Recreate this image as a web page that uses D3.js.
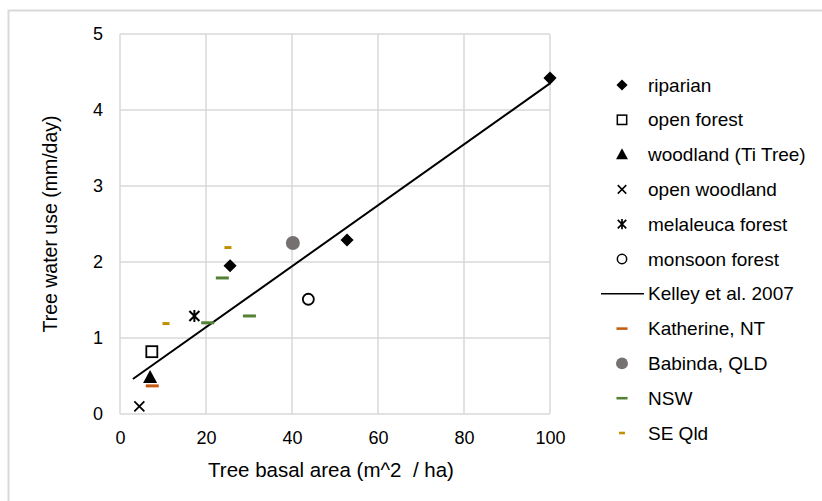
<!DOCTYPE html>
<html>
<head>
<meta charset="utf-8">
<script src="https://cdn.jsdelivr.net/npm/d3@7"></script>
<style>
  body { margin: 0; background: #fff; }
  svg { display: block; font-family: "Liberation Sans", Arial, sans-serif; }
</style>
</head>
<body>
<div id="chart"></div>
<script>
// data
const riparian = [[25.6, 1.95], [52.8, 2.29], [100, 4.42]];
const openForest = [[7.4, 0.82]];
const woodlandTiTree = [[7.0, 0.48]];
const openWoodland = [[4.5, 0.10]];
const melaleuca = [[17.3, 1.29]];
const monsoon = [[43.8, 1.51]];
const kelley = [[3, 0.46], [100, 4.35]];
const katherine = [[7.5, 0.37]];
const babinda = [[40.2, 2.25]];
const nsw = [[23.8, 1.79], [20.4, 1.20], [30.1, 1.29]];
const seQld = [[10.7, 1.19], [25.1, 2.19]];

const xTicks = [0, 20, 40, 60, 80, 100];
const yTicks = [0, 1, 2, 3, 4, 5];

const legendItems = [
  { name: "riparian", kind: "diamond" },
  { name: "open forest", kind: "square" },
  { name: "woodland (Ti Tree)", kind: "triangle" },
  { name: "open woodland", kind: "x" },
  { name: "melaleuca forest", kind: "star" },
  { name: "monsoon forest", kind: "circle" },
  { name: "Kelley et al. 2007", kind: "line" },
  { name: "Katherine, NT", kind: "dash", color: "#c55a11" },
  { name: "Babinda, QLD", kind: "dot" },
  { name: "NSW", kind: "dash", color: "#548235" },
  { name: "SE Qld", kind: "dashSmall", color: "#bf9000" }
];

const width = 822, height = 501;
const margin = { left: 120, top: 34, right: 272, bottom: 87 };

const svg = d3.select("#chart").append("svg")
  .attr("width", width)
  .attr("height", height);

// outer frame (top and left edges only visible)
svg.append("path")
  .attr("d", `M8.5,${height}V10.5H${width}`)
  .attr("fill", "none")
  .attr("stroke", "#d9d9d9")
  .attr("stroke-width", 2);

const x = d3.scaleLinear().domain([0, 100]).range([margin.left, width - margin.right]);
const y = d3.scaleLinear().domain([0, 5]).range([height - margin.bottom, margin.top]);

// grid
svg.append("g")
  .selectAll("line.v")
  .data(xTicks)
  .enter().append("line")
  .attr("x1", d => x(d)).attr("x2", d => x(d))
  .attr("y1", y(0)).attr("y2", y(5))
  .style("stroke", "#d9d9d9")
  .style("stroke-width", "1.5px");

svg.append("g")
  .selectAll("line.h")
  .data(yTicks)
  .enter().append("line")
  .attr("x1", x(0)).attr("x2", x(100))
  .attr("y1", d => y(d)).attr("y2", d => y(d))
  .style("stroke", "#d9d9d9")
  .style("stroke-width", "1.5px");

// axes
const xAxis = svg.append("g")
  .attr("transform", `translate(0,${y(0)})`)
  .call(d3.axisBottom(x).tickValues(xTicks).tickFormat(d3.format("d")).tickSize(0).tickPadding(17));
const yAxis = svg.append("g")
  .attr("transform", `translate(${x(0)},0)`)
  .call(d3.axisLeft(y).tickValues(yTicks).tickFormat(d3.format("d")).tickSize(0).tickPadding(17));

[xAxis, yAxis].forEach(a => {
  a.select(".domain").remove();
  a.selectAll("text")
    .style("font-family", "Liberation Sans, Arial, sans-serif")
    .style("font-size", "18px")
    .style("fill", "#000");
});

// axis titles
svg.append("text")
  .attr("x", 331)
  .attr("y", 477)
  .attr("text-anchor", "middle")
  .style("font-size", "20.5px")
  .style("fill", "#000")
  .style("white-space", "pre")
  .text("Tree basal area (m^2  / ha)");

svg.append("text")
  .attr("transform", `translate(57,224) rotate(-90)`)
  .attr("text-anchor", "middle")
  .style("font-size", "19.5px")
  .style("fill", "#000")
  .text("Tree water use (mm/day)");

// marker drawing helper
function drawMarker(g, kind, color) {
  switch (kind) {
    case "diamond":
      g.append("path").attr("d", d3.symbol(d3.symbolDiamond2, 110)()).attr("fill", "#000");
      break;
    case "square":
      g.append("rect").attr("x", -5.5).attr("y", -5.5).attr("width", 11).attr("height", 11)
        .attr("fill", "#fff").attr("stroke", "#000").attr("stroke-width", 1.8);
      break;
    case "triangle":
      g.append("path").attr("d", "M0,-7.5L7,5.5L-7,5.5Z").attr("fill", "#000");
      break;
    case "x":
      g.append("path").attr("d", "M-5,-5L5,5M5,-5L-5,5")
        .attr("stroke", "#000").attr("stroke-width", 1.8);
      break;
    case "star":
      g.append("path").attr("d", "M-5,-5L5,5M5,-5L-5,5M0,-6V6")
        .attr("stroke", "#000").attr("stroke-width", 2);
      break;
    case "circle":
      g.append("circle").attr("r", 5.5)
        .attr("fill", "#fff").attr("stroke", "#000").attr("stroke-width", 1.8);
      break;
    case "dot":
      g.append("circle").attr("r", 7).attr("fill", "#767171");
      break;
    case "dash":
      g.append("rect").attr("x", -6.5).attr("y", -1.5).attr("width", 13).attr("height", 3).attr("fill", color);
      break;
    case "dashSmall":
      g.append("rect").attr("x", -3.5).attr("y", -1.5).attr("width", 7).attr("height", 3).attr("fill", color);
      break;
  }
}

// trend line
const line = d3.line().x(d => x(d[0])).y(d => y(d[1]));
svg.append("path")
  .datum(kelley)
  .attr("d", line)
  .style("fill", "none")
  .style("stroke", "#000")
  .style("stroke-width", "2px");

// points
const seriesList = [
  [katherine, "dash", "#c55a11"],
  [nsw, "dash", "#548235"],
  [seQld, "dashSmall", "#bf9000"],
  [babinda, "dot"],
  [riparian, "diamond"],
  [openForest, "square"],
  [woodlandTiTree, "triangle"],
  [openWoodland, "x"],
  [melaleuca, "star"],
  [monsoon, "circle"]
];

seriesList.forEach(([data, kind, color]) => {
  svg.append("g").selectAll("g")
    .data(data)
    .enter().append("g")
    .attr("transform", d => `translate(${x(d[0])},${y(d[1])})`)
    .each(function() { drawMarker(d3.select(this), kind, color); });
});

// legend
const legend = svg.append("g");
const rowY = d3.scaleLinear().domain([0, 10]).range([85, 433]);
const rows = legend.selectAll("g")
  .data(legendItems)
  .enter().append("g")
  .attr("transform", (d, i) => `translate(622,${rowY(i)})`);

rows.each(function(d) {
  const g = d3.select(this);
  if (d.kind === "line") {
    g.append("line").attr("x1", -21).attr("x2", 22).attr("y1", 0).attr("y2", 0)
      .attr("stroke", "#000").attr("stroke-width", 1.6);
  } else {
    const m = g.append("g").attr("transform", "scale(0.85)");
    drawMarker(m, d.kind, d.color);
  }
});

rows.append("text")
  .attr("x", 26)
  .attr("y", 0)
  .attr("dy", "0.35em")
  .style("font-size", "19px")
  .style("fill", "#000")
  .text(d => d.name);
</script>
</body>
</html>
